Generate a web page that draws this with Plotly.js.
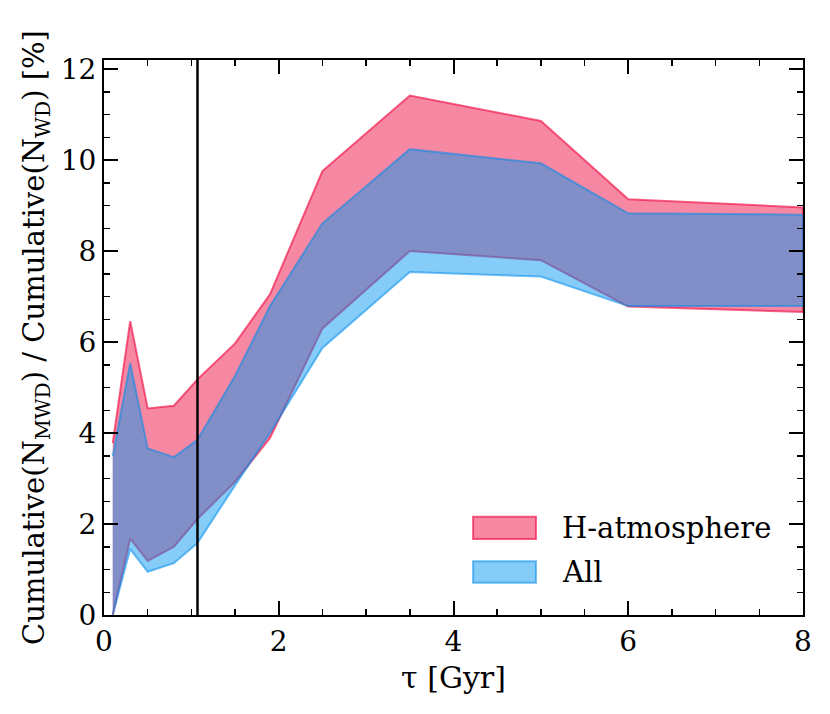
<!DOCTYPE html>
<html>
<head>
<meta charset="utf-8">
<script src="https://cdn.plot.ly/plotly-3.0.1.min.js"></script>
<style>
  html, body { margin: 0; padding: 0; background: white; }
  #chart { width: 830px; height: 714px; }
</style>
</head>
<body>
<div id="chart"></div>
<script>
// cosmic time grid [Gyr]
const tau = [0.1, 0.3, 0.5, 0.8, 1.07, 1.5, 1.9, 2.5, 3.5, 5, 6, 8];

// H-atmosphere band (lower / upper) [%]
const hLow  = [0, 1.68, 1.19, 1.50, 2.11, 2.93, 3.89, 6.30, 8.00, 7.80, 6.78, 6.66];
const hHigh = [3.78, 6.46, 4.54, 4.60, 5.18, 5.97, 7.05, 9.76, 11.42, 10.86, 9.14, 8.96];

// All white dwarfs band (lower / upper) [%]
const allLow  = [0, 1.45, 0.95, 1.14, 1.58, 2.85, 4.00, 5.87, 7.54, 7.44, 6.79, 6.79];
const allHigh = [3.49, 5.54, 3.66, 3.47, 3.85, 5.26, 6.79, 8.61, 10.24, 9.93, 8.83, 8.80];

const seriesNames = ['H-atmosphere', 'All'];

const tauMark = 1.07; // vertical reference line

const font = 'DejaVu Serif, serif';
const pinkFill = 'rgba(240,17,71,0.5)';
const pinkEdge = 'rgba(240,17,71,0.65)';
const blueFill = 'rgba(0,149,240,0.48)';
const blueEdge = 'rgba(0,140,235,0.55)';

// closed polygon: upper edge left->right, then lower edge back
function band(x, lo, hi) {
    return {
        x: x.concat(x.slice().reverse()),
        y: hi.concat(lo.slice().reverse())
    };
}

const hBand = band(tau, hLow, hHigh);
const allBand = band(tau, allLow, allHigh);

const traceH = {
    x: hBand.x, y: hBand.y,
    type: 'scatter', mode: 'lines',
    fill: 'toself',
    fillcolor: pinkFill,
    line: { color: pinkEdge, width: 2 },
    name: seriesNames[0],
    hoverinfo: 'skip'
};

const traceAll = {
    x: allBand.x, y: allBand.y,
    type: 'scatter', mode: 'lines',
    fill: 'toself',
    fillcolor: blueFill,
    line: { color: blueEdge, width: 2 },
    name: seriesNames[1],
    hoverinfo: 'skip'
};

const axisCommon = {
    showgrid: false,
    zeroline: false,
    showline: true,
    linecolor: 'black',
    linewidth: 2,
    mirror: 'allticks',
    ticks: 'inside',
    ticklen: 14,
    tickwidth: 2,
    tickcolor: 'black',
    tickfont: { family: font, size: 28, color: 'black' },
    fixedrange: true
};

// legend drawn as matplotlib-style patches (paper coords)
const legendPatches = [
    { y0: 0.137, y1: 0.177, fill: pinkFill, edge: pinkEdge },
    { y0: 0.058, y1: 0.097, fill: blueFill, edge: blueEdge }
];
const legendShapes = legendPatches.map(p => ({
    type: 'rect', xref: 'paper', yref: 'paper',
    x0: 0.528, x1: 0.618, y0: p.y0, y1: p.y1,
    fillcolor: p.fill,
    line: { color: p.edge, width: 2 }
}));
const legendLabels = legendPatches.map((p, i) => ({
    xref: 'paper', yref: 'paper',
    x: 0.652, y: (p.y0 + p.y1) / 2,
    xanchor: 'left', yanchor: 'middle',
    text: seriesNames[i],
    showarrow: false,
    font: { family: font, size: 29, color: 'black' }
}));

const layout = {
    width: 830,
    height: 714,
    paper_bgcolor: 'white',
    plot_bgcolor: 'white',
    margin: { l: 104, r: 27, t: 60, b: 99 },
    font: { family: font, color: 'black' },
    showlegend: false,
    xaxis: {
        ...axisCommon,
        range: [0, 8],
        dtick: 2,
        tick0: 0,
        minor: { dtick: 0.5, ticks: 'inside', ticklen: 6, tickwidth: 1.5, tickcolor: 'black' },
        title: { text: 'τ [Gyr]', font: { family: font, size: 30, color: 'black' }, standoff: 10 }
    },
    yaxis: {
        ...axisCommon,
        range: [0, 12.2],
        dtick: 2,
        tick0: 0,
        minor: { dtick: 0.5, ticks: 'inside', ticklen: 6, tickwidth: 1.5, tickcolor: 'black' },
        title: {
            text: 'Cumulative(N<sub>MWD</sub>) / Cumulative(N<sub>WD</sub>) [%]',
            font: { family: font, size: 29, color: 'black' },
            standoff: 8
        }
    },
    shapes: [{
        type: 'line',
        xref: 'x', yref: 'paper',
        x0: tauMark, x1: tauMark, y0: 0, y1: 1,
        line: { color: 'black', width: 2.5 }
    }].concat(legendShapes),
    annotations: legendLabels
};

Plotly.newPlot('chart', [traceH, traceAll], layout, { displayModeBar: false, staticPlot: true });
</script>
</body>
</html>
